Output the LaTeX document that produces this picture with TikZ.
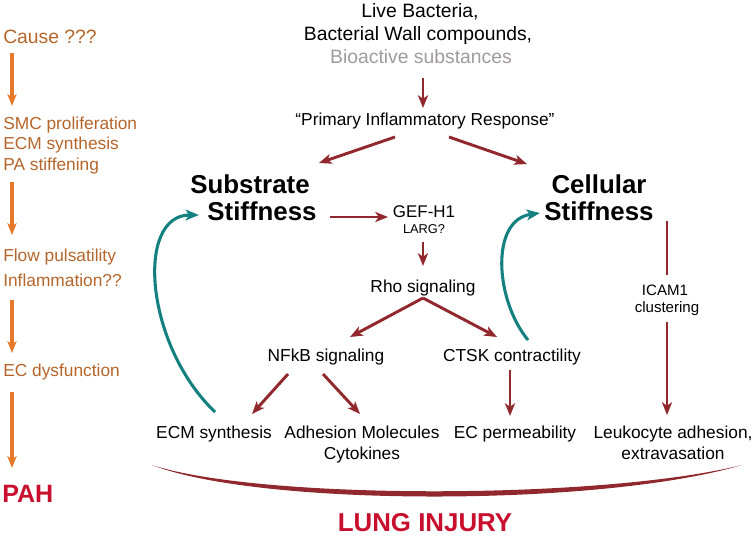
\documentclass[tikz,border=0pt]{standalone}
\usepackage{fontspec}
\setmainfont{Liberation Sans}
\usetikzlibrary{arrows.meta,calc}
\definecolor{dred}{HTML}{91282D}
\definecolor{orarr}{HTML}{E6782A}
\definecolor{brn}{HTML}{B5652A}
\definecolor{pahred}{HTML}{C8102E}
\definecolor{teal2}{HTML}{148080}
\definecolor{gry}{HTML}{A09A9A}
\tikzset{
  txt/.style={inner sep=0pt, anchor=base, font=\fontsize{13}{15}\selectfont},
  toptxt/.style={txt, font=\fontsize{14.5}{17}\selectfont},
  bigtxt/.style={txt, font=\fontsize{19.4}{22}\selectfont\bfseries},
  lefttxt/.style={inner sep=0pt, anchor=base west, text=brn, font=\fontsize{13}{15}\selectfont},
  rarr/.style={draw=dred, line width=2.2pt, -{Stealth[length=9.5pt,width=7.5pt,inset=2.5pt]}},
  rline/.style={draw=dred, line width=2.2pt},
  oarr/.style={draw=orarr, line width=2.3pt, -{Stealth[length=9pt,width=7pt,inset=2.5pt]}},
  tarr/.style={draw=teal2, line width=2.3pt, -{Stealth[length=10pt,width=8pt,inset=2.5pt]}}
}
\begin{document}
\begin{tikzpicture}[x=0.75pt,y=-0.75pt]
\useasboundingbox (0,0) rectangle (755,537);
% top
\node[toptxt] (live) at (420,17) {Live Bacteria,};
\node[toptxt] (wall) at (418,40) {Bacterial Wall compounds,};
\node[toptxt, text=gry] (bio) at (421,63) {Bioactive substances};
\node[txt] (prim) at (425,125) {``Primary Inflammatory Response''};
\draw[rarr] ($(bio.base)+(2,15)$) -- ($(prim.base)+(-2,-17)$);
% stiffness
\node[bigtxt] (sub1) at (250,193) {Substrate};
\node[bigtxt] (sub2) at (262,220) {Stiffness};
\node[bigtxt] (cel1) at (599,193) {Cellular};
\node[bigtxt] (cel2) at (599,220) {Stiffness};
\draw[rarr] ($(prim.base)+(-30,12)$) -- ($(sub1.base)+(69,-30)$);
\draw[rarr] ($(prim.base)+(24,12)$) -- ($(cel1.base)+(-72,-29)$);
% GEF / Rho
\node[txt, font=\fontsize{12.7}{15}\selectfont] (gef) at (424,217) {GEF-H1};
\node[txt, font=\fontsize{9.6}{11}\selectfont] (larg) at (424,233) {LARG?};
\node[txt] (rho) at (423,292) {Rho signaling};
\draw[rarr] ($(sub2.base)+(68,-3)$) -- ($(gef.base)+(-36,0)$);
\draw[rarr] ($(larg.base)+(-1,9)$) -- ($(rho.base)+(0,-26)$);
\node[txt] (nfkb) at (326,361) {NFkB signaling};
\node[txt] (ctsk) at (512,361) {CTSK contractility};
\coordinate (apex) at ($(rho.base)+(0,6)$);
\draw[rarr] (apex) -- ($(nfkb.base)+(24,-24)$);
\draw[rarr] (apex) -- ($(ctsk.base)+(-15,-24)$);
% bottom row
\node[txt] (ecm) at (214,438) {ECM synthesis};
\node[txt] (adh) at (362,438) {Adhesion Molecules};
\node[txt] (cyt) at (362,459) {Cytokines};
\node[txt] (ecp) at (515,438) {EC permeability};
\node[txt] (leuk) at (673,438) {Leukocyte adhesion,};
\node[txt] (extr) at (673,459) {extravasation};
\draw[rarr] ($(nfkb.base)+(-38,13)$) -- ($(ecm.base)+(38,-24)$);
\draw[rarr] ($(nfkb.base)+(-3,13)$) -- ($(adh.base)+(-2,-24)$);
\draw[rarr] ($(ctsk.base)+(-2,9)$) -- ($(ecp.base)+(-5,-22)$);
% ICAM
\node[txt, font=\fontsize{11.3}{13}\selectfont] (icam) at (665,295) {ICAM1};
\node[txt, font=\fontsize{11.3}{13}\selectfont] (clus) at (667,312) {clustering};
\draw[rline] ($(cel2.base)+(68,1)$) -- ($(icam.base)+(2,-20)$);
\draw[rarr] ($(clus.base)+(0,10)$) -- ($(leuk.base)+(-6,-23)$);
% teal feedback
\draw[tarr] ($(ecm.base)+(1,-26)$) .. controls (145,345) and (135,215) .. ($(sub2.base)+(-63,-5)$);
\draw[tarr] ($(ctsk.base)+(16,-21)$) .. controls (495,300) and (490,220) .. ($(cel2.base)+(-59,-7)$);
% brace
\coordinate (bl) at (152,465);
\coordinate (br) at (742,465);
\fill[dred] (bl) .. controls (260,500) and (600,500) .. (br)
  .. controls (600,507) and (260,507) .. (bl) -- cycle;
\node[txt, text=pahred, font=\fontsize{19.4}{22}\selectfont\bfseries] (lung) at (425,531) {LUNG INJURY};
% left column
\node[lefttxt, font=\fontsize{14.5}{17}\selectfont] (cause) at (3,43) {Cause ???};
\node[lefttxt] (smc) at (3,129) {SMC proliferation};
\node[lefttxt] (ecm2) at (3,149) {ECM synthesis};
\node[lefttxt] (pa) at (3,170) {PA stiffening};
\node[lefttxt] (flow) at (3,261) {Flow pulsatility};
\node[lefttxt] (infl) at (3,286) {Inflammation??};
\node[lefttxt] (ecd) at (3,376) {EC dysfunction};
\node[lefttxt, text=pahred, font=\fontsize{18.8}{22}\selectfont\bfseries] (pah) at (2,502) {PAH};
\draw[oarr] ($(cause.base west)+(9,10)$) -- ($(smc.base west)+(9,-23)$);
\draw[oarr] ($(pa.base west)+(9,12)$) -- ($(flow.base west)+(9,-26)$);
\draw[oarr] ($(infl.base west)+(9,14)$) -- ($(ecd.base west)+(9,-23)$);
\draw[oarr] ($(ecd.base west)+(9,16)$) -- ($(pah.base west)+(10,-34)$);
\end{tikzpicture}
\end{document}
